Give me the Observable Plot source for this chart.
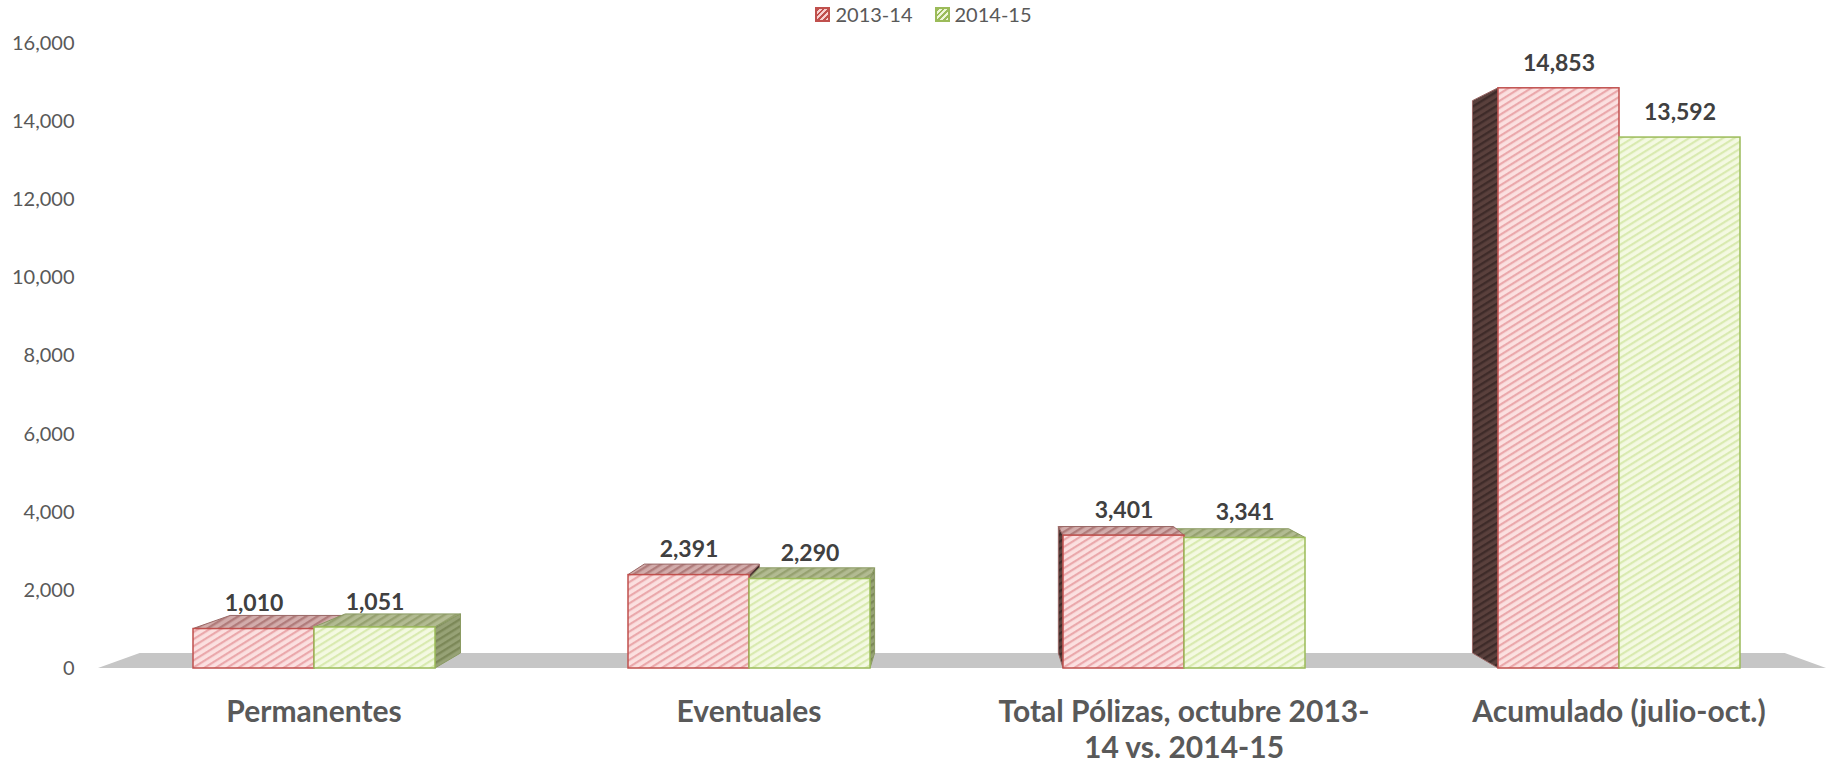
<!DOCTYPE html>
<html><head><meta charset="utf-8">
<script src="https://cdn.jsdelivr.net/npm/d3@7"></script>
<script src="https://cdn.jsdelivr.net/npm/@observablehq/plot@0.6"></script>
<style>
body{margin:0;background:#fff;font-family:Lato,sans-serif;}
#legend{height:28px;display:flex;justify-content:center;align-items:center;gap:22px;font-size:20px;color:#595959;padding-left:4px;}
.item{display:flex;align-items:center;gap:5px;}
.sw{width:15px;height:15px;box-sizing:border-box;}
.sw.r{border:2px solid #c0504d;background:repeating-linear-gradient(-45deg,#f7d0d0 0 2px,#c0504d 2px 4px);}
.sw.g{border:2px solid #9bbb59;background:repeating-linear-gradient(-45deg,#eef6d8 0 2px,#9bbb59 2px 4px);}
#chart svg{display:block;}
</style></head><body>
<div id="legend"></div><div id="chart"></div>
<script>
const categories = ["Permanentes", "Eventuales", "Total Pólizas, octubre 2013-14 vs. 2014-15", "Acumulado (julio-oct.)"];
const categoryLabels = ["Permanentes", "Eventuales", "Total Pólizas, octubre 2013-\n14 vs. 2014-15", "Acumulado (julio-oct.)"];
const series = ["2013-14", "2014-15"];
const values2013 = [1010, 2391, 3401, 14853];
const values2014 = [1051, 2290, 3341, 13592];
const yTicks = [0, 2000, 4000, 6000, 8000, 10000, 12000, 14000, 16000];

// legend
const legend = document.getElementById("legend");
series.forEach((s, i) => {
  const it = document.createElement("div"); it.className = "item";
  const sw = document.createElement("div"); sw.className = "sw " + (i === 0 ? "r" : "g");
  const tx = document.createElement("span"); tx.textContent = s;
  it.append(sw, tx); legend.append(it);
});

const data = categories.flatMap((c, i) => [
  {cat: c, ser: series[0], v: values2013[i]},
  {cat: c, ser: series[1], v: values2014[i]}
]);
const fmt = d3.format(",");

const plot = Plot.plot({
  width: 1843, height: 741,
  marginLeft: 98, marginRight: 9, marginTop: 15, marginBottom: 101,
  style: {fontFamily: "Lato, sans-serif", background: "transparent", overflow: "visible"},
  fx: {domain: categories, paddingInner: 0.441, paddingOuter: 0.215, axis: null, label: null},
  x: {domain: series, padding: 0, axis: null},
  y: {domain: [0, 16000], axis: null},
  marks: [
    Plot.axisY({ticks: yTicks, tickSize: 0, tickPadding: 118, tickFormat: fmt, fontSize: 20, fill: "#595959", label: null}),
    Plot.axisFx({anchor: "bottom", tickSize: 0, tickPadding: 27, fontSize: 30, fontWeight: "bold", fill: "#595959",
      label: null, lineHeight: 1.22, tickFormat: d => categoryLabels[categories.indexOf(d)]}),
    Plot.barY(data.filter(d => d.ser === series[0]), {fx: "cat", x: "ser", y: "v", fill: "url(#hRedFront)", stroke: "#c0504d", strokeWidth: 1.5}),
    Plot.barY(data.filter(d => d.ser === series[1]), {fx: "cat", x: "ser", y: "v", fill: "url(#hGreenFront)", stroke: "#9bbb59", strokeWidth: 1.5}),
    Plot.text(data, {fx: "cat", x: "ser", y: "v", text: d => fmt(d.v), dy: -25, lineAnchor: "middle", fontSize: 23, fontWeight: "bold", fill: "#404040"})
  ]
});
document.getElementById("chart").append(plot);

// patterns
const svg = d3.select(plot);
const defs = svg.insert("defs", ":first-child");
function pat(id, base, stripe, period, sw) {
  const p = defs.append("pattern").attr("id", id).attr("patternUnits", "userSpaceOnUse")
    .attr("width", period).attr("height", period).attr("patternTransform", "rotate(-32)");
  p.append("rect").attr("width", period).attr("height", period).attr("fill", base);
  p.append("rect").attr("width", period).attr("height", sw).attr("fill", stripe);
}
pat("hRedFront", "#fbe0e0", "#eaa8ab", 6, 2.2);
pat("hGreenFront", "#f4f9e2", "#d9eab0", 6, 2.2);
pat("hRedTop", "#d2acab", "#b07c7b", 6, 2.4);
pat("hRedSide", "#5a403c", "#3e2b29", 6, 2.4);
pat("hGreenTop", "#b2bb92", "#96a170", 6, 2.4);
pat("hGreenSide", "#97a276", "#7c8858", 6, 2.4);

// 3D perspective faces, derived from the rendered bars and scales
const fxs = plot.scale("fx"), ys = plot.scale("y");
const [fr0, fr1] = fxs.range;
const vx = (fr0 + fr1) / 2;
const vy = ys.apply(8000);
const k = 0.952;
const P = (x, y) => [vx + (x - vx) * k, vy + (y - vy) * k];

const barGroups = Array.from(plot.querySelectorAll('g[aria-label="bar"]'));
const boxes = [];
barGroups.forEach(g => {
  g.querySelectorAll("rect").forEach(r => {
    const red = (getComputedStyle(r).fill || "").includes("Red") || (getComputedStyle(r).stroke || "").includes("192, 80, 77");
    const bb = r.getBBox(), m = r.getCTM();
    const x0 = m.a * bb.x + m.e, x1 = m.a * (bb.x + bb.width) + m.e;
    const yt = m.d * bb.y + m.f, yb = m.d * (bb.y + bb.height) + m.f;
    boxes.push({red, x0, x1, yt, yb});
  });
});
const y0 = ys.apply(0);

const floorG = document.createElementNS("http://www.w3.org/2000/svg", "g");
const facesG = document.createElementNS("http://www.w3.org/2000/svg", "g");
barGroups[0].parentNode.insertBefore(floorG, barGroups[0]);
barGroups[0].parentNode.insertBefore(facesG, barGroups[0]);

const poly = (g, pts, fill, stroke) => d3.select(g).append("polygon")
  .attr("points", pts.map(p => p.join(",")).join(" ")).attr("fill", fill)
  .attr("stroke", stroke || "none").attr("stroke-width", 1).attr("stroke-linejoin", "round");

poly(floorG, [[fr0, y0], [fr1 - 8, y0], P(fr1 - 8, y0), P(fr0, y0)], "#c6c6c6");

boxes.sort((a, b) => Math.abs((b.x0 + b.x1) / 2 - vx) - Math.abs((a.x0 + a.x1) / 2 - vx));
boxes.forEach(b => {
  const side = b.red ? "url(#hRedSide)" : "url(#hGreenSide)";
  const top = b.red ? "url(#hRedTop)" : "url(#hGreenTop)";
  const st = b.red ? "#9a6866" : "#8a9a62";
  if (b.x0 > vx) poly(facesG, [[b.x0, b.yt], [b.x0, b.yb], P(b.x0, b.yb), P(b.x0, b.yt)], side, st);
  if (b.x1 < vx) poly(facesG, [[b.x1, b.yt], [b.x1, b.yb], P(b.x1, b.yb), P(b.x1, b.yt)], side, st);
  if (b.yt > vy) poly(facesG, [[b.x0, b.yt], [b.x1, b.yt], P(b.x1, b.yt), P(b.x0, b.yt)], top, st);
});
</script>
</body></html>
